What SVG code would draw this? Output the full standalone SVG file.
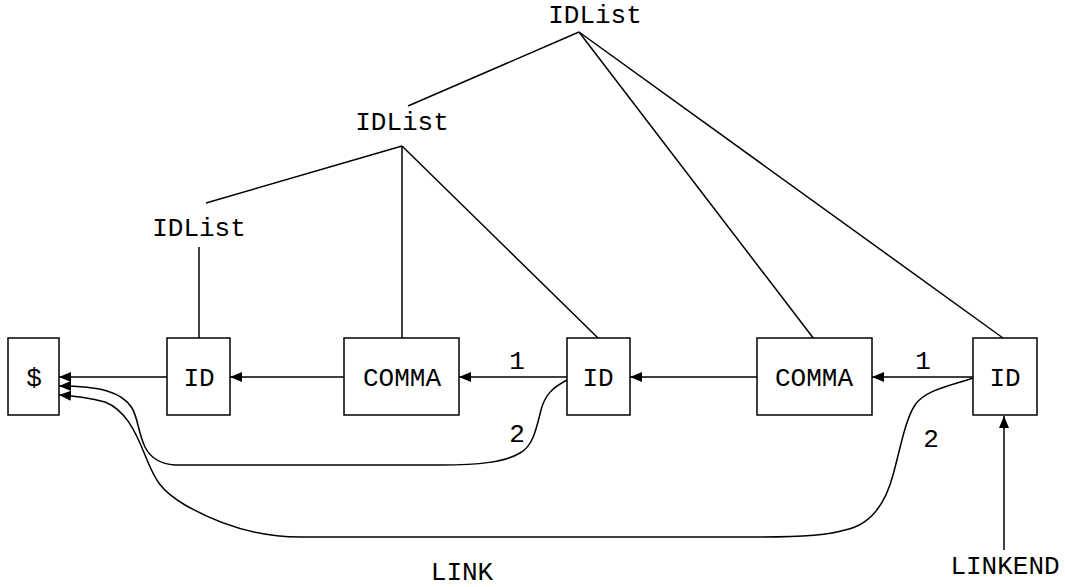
<svg xmlns="http://www.w3.org/2000/svg" width="1065" height="587" viewBox="0 0 1065 587">
<style>
.box{fill:#fff;stroke:#000;stroke-width:1.5}
.t{font-family:"Liberation Mono","Courier New",monospace;font-size:26px;fill:#000;text-anchor:middle}
.e{fill:none;stroke:#000;stroke-width:1.5}
.a{marker-end:url(#ah)}
</style>
<defs>
<marker id="ah" markerUnits="userSpaceOnUse" markerWidth="14" markerHeight="12" refX="12" refY="5" orient="auto">
<path d="M0,0 L12,5 L0,10 z" fill="#000"/>
</marker>
</defs>
<rect width="1065" height="587" fill="#fff"/>
<g id="connectors">
<line class="e" x1="579" y1="32" x2="408" y2="106"/>
<line class="e" x1="579" y1="32" x2="814" y2="339"/>
<line class="e" x1="579" y1="32" x2="1003" y2="338"/>
<line class="e" x1="402" y1="146" x2="206" y2="203"/>
<line class="e" x1="402" y1="146" x2="402" y2="338"/>
<line class="e" x1="402" y1="146" x2="598" y2="338"/>
<line class="e" x1="199" y1="247" x2="199" y2="338"/>
<line class="e a" x1="167" y1="377" x2="59" y2="377"/>
<line class="e a" x1="344" y1="377" x2="230" y2="377"/>
<line class="e a" x1="567" y1="377" x2="459" y2="377"/>
<line class="e a" x1="757" y1="377" x2="630" y2="377"/>
<line class="e a" x1="973" y1="377" x2="872" y2="377"/>
<line class="e a" x1="1004" y1="550" x2="1004" y2="416"/>
<path class="e a" d="M567,380 C552,388 545,395 541,410 C536,430 533,446 520,453 C505,462 480,465 440,465 L175,465 C160,464 150,457 145,447 C138,432 138,418 132,408 C122,392 100,386 59,386"/>
<path class="e a" d="M973,378 C950,386 925,390 915,405 C905,420 900,450 893,475 C885,505 870,525 845,530 C830,535 800,537 760,537 L300,537 C260,537 220,525 185,505 C160,490 155,480 145,455 C135,430 125,410 105,402 C90,398 75,396 59,395"/>
<text class="t" x="517" y="369">1</text>
<text class="t" x="923" y="369">1</text>
<text class="t" x="517" y="442">2</text>
<text class="t" x="931" y="447">2</text>
<text class="t" x="462" y="580">LINK</text>
<text class="t" x="1005" y="574">LINKEND</text>
</g>
<g id="idlist_top"><text class="t" x="595" y="23">IDList</text></g>
<g id="idlist_mid"><text class="t" x="402" y="130">IDList</text></g>
<g id="idlist_low"><text class="t" x="199" y="236">IDList</text></g>
<g id="dollar"><rect class="box" x="8" y="338" width="51" height="77"/><text class="t" x="34" y="386">$</text></g>
<g id="id1"><rect class="box" x="167" y="338" width="63" height="77"/><text class="t" x="199" y="386">ID</text></g>
<g id="comma1"><rect class="box" x="344" y="338" width="115" height="77"/><text class="t" x="402" y="386">COMMA</text></g>
<g id="id2"><rect class="box" x="567" y="338" width="63" height="77"/><text class="t" x="598" y="386">ID</text></g>
<g id="comma2"><rect class="box" x="757" y="338" width="115" height="77"/><text class="t" x="814" y="386">COMMA</text></g>
<g id="id3"><rect class="box" x="973" y="338" width="64" height="77"/><text class="t" x="1005" y="386">ID</text></g>
</svg>
